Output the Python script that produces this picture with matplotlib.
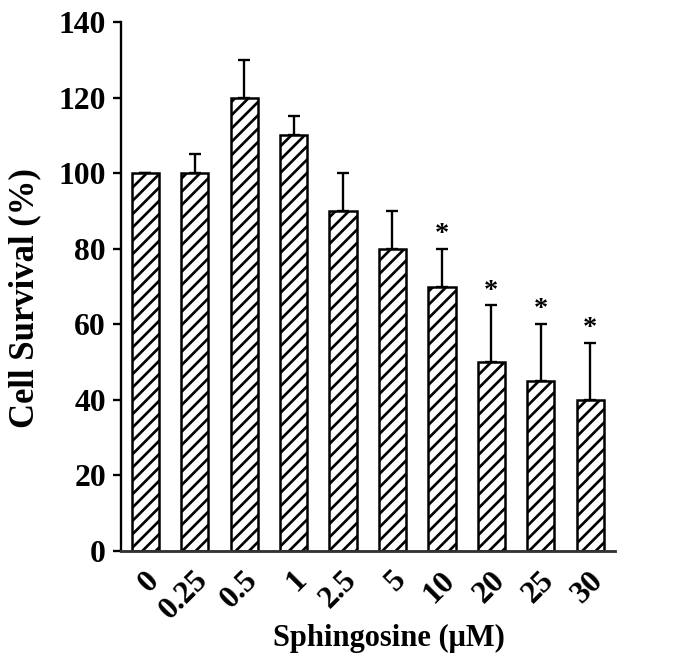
import matplotlib
matplotlib.use("Agg")
import matplotlib.pyplot as plt
import matplotlib.transforms as mtransforms
import numpy as np

# data
doses = ["0", "0.25", "0.5", "1", "2.5", "5", "10", "20", "25", "30"]
survival = [100, 100, 120, 110, 90, 80, 70, 50, 45, 40]
err_up = [0, 5, 10, 5, 10, 10, 10, 15, 15, 15]
significant = [False, False, False, False, False, False, True, True, True, True]

plt.rcParams["font.family"] = ["Liberation Serif", "DejaVu Serif"]
plt.rcParams["font.weight"] = "bold"
plt.rcParams["hatch.linewidth"] = 1.6

dpi = 120
fig = plt.figure(figsize=(681 / dpi, 666 / dpi), dpi=dpi)
ax = fig.add_axes([121 / 681, 1 - 551 / 666, (615 - 121) / 681, (551 - 22) / 666])

x = np.arange(len(doses))
ax.bar(x, survival, width=0.55, color="white", edgecolor="black",
       linewidth=1.5, hatch="///", zorder=2)
ax.errorbar(x, survival, yerr=[np.zeros(len(x)), err_up], fmt="none",
            ecolor="black", elinewidth=1.4, capsize=3.5, capthick=1.4, zorder=1)

for xi, v, e, s in zip(x, survival, err_up, significant):
    if s:
        ax.text(xi, v + e + 0.5, "*", ha="center", va="bottom", fontsize=17,
                fontweight="bold")

ax.set_xlim(-0.49, len(doses) - 0.5)
ax.set_ylim(0, 140)
ax.set_yticks(range(0, 141, 20))
ax.tick_params(axis="y", direction="out", length=5, width=1.4, labelsize=19, pad=4)
ax.tick_params(axis="x", length=0, labelsize=19, pad=15)
ax.set_xticks(x)
ax.set_xticklabels(doses, rotation=45, ha="right", va="center",
                   rotation_mode="anchor")
shift = mtransforms.ScaledTranslation(9 / dpi, 0, fig.dpi_scale_trans)
for lab in ax.get_xticklabels():
    lab.set_transform(lab.get_transform() + shift)

ax.spines["top"].set_visible(False)
ax.spines["right"].set_visible(False)
ax.spines["left"].set_linewidth(1.4)
ax.spines["bottom"].set_linewidth(1.7)
ax.spines["bottom"].set_color("#333333")

fig.text(25 / 681, 1 - 298 / 666, "Cell Survival (%)", rotation=90,
         ha="center", va="center", fontsize=20.8, fontweight="bold")
fig.text(389 / 681, 1 - 638 / 666, "Sphingosine (\u03bcM)",
         ha="center", va="center", fontsize=18.3, fontweight="bold")

fig.savefig("out.png", dpi=dpi)
